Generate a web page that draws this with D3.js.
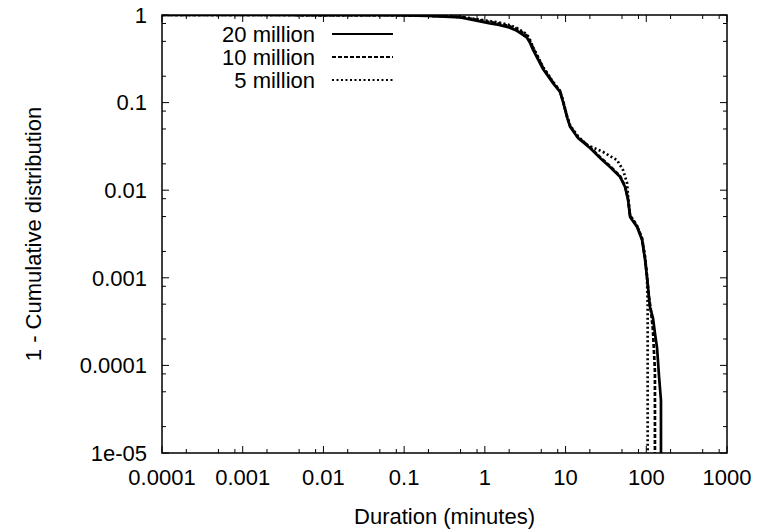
<!DOCTYPE html>
<html>
<head>
<meta charset="utf-8">
<script src="https://cdn.jsdelivr.net/npm/d3@7"></script>
<style>
  body { margin: 0; background: #fff; }
  svg { display: block; font-family: "Liberation Sans", Arial, sans-serif; }
</style>
</head>
<body>
<svg width="759" height="531"></svg>
<script>
// названия серий (легенда)
const seriesNames = ["20 million", "10 million", "5 million"];

// 20 million: длительность (минуты) и 1 - F(x)
const dur20 = [0.0001, 0.001, 0.01, 0.05, 0.1, 0.2, 0.5, 1.16, 1.5, 2.0, 2.5, 3.0, 3.33, 3.63, 3.96, 5.26, 7.0, 8.55, 9.31, 10.4, 11.4, 14.3, 20.1, 26.8, 35.6, 47.3, 54.6, 59.5, 63.0, 76.9, 88.7, 96.6, 102, 108, 111, 121, 128, 136, 144, 152, 152];
const surv20 = [1, 1, 0.999, 0.995, 0.99, 0.975, 0.94, 0.80, 0.77, 0.72, 0.66, 0.59, 0.55, 0.48, 0.40, 0.242, 0.167, 0.132, 0.1016, 0.0685, 0.0527, 0.0394, 0.0303, 0.0233, 0.0184, 0.0142, 0.0109, 0.00773, 0.00494, 0.0038, 0.0027, 0.0016, 0.00102, 0.0006, 0.000464, 0.000348, 0.000234, 0.000158, 7.4e-5, 4.0e-5, 1e-5];

// 10 million
const dur10 = [0.0001, 0.001, 0.01, 0.05, 0.1, 0.2, 0.5, 1.16, 1.5, 2.0, 2.5, 3.0, 3.33, 3.63, 3.96, 5.26, 7.0, 8.55, 9.31, 10.4, 11.4, 14.3, 20.1, 26.8, 35.6, 47.3, 54.6, 59.5, 63.0, 76.9, 88.7, 96.6, 102, 108, 114, 121, 128, 128];
const surv10 = [1, 1, 0.999, 0.996, 0.992, 0.98, 0.95, 0.83, 0.80, 0.75, 0.69, 0.62, 0.58, 0.50, 0.42, 0.25, 0.17, 0.135, 0.104, 0.07, 0.054, 0.040, 0.031, 0.0238, 0.0188, 0.0145, 0.0111, 0.0079, 0.0051, 0.0039, 0.0028, 0.0017, 0.00105, 0.0006, 0.00043, 0.00025, 8.5e-5, 1e-5];

// 5 million
const dur5 = [0.0001, 0.001, 0.01, 0.05, 0.1, 0.2, 0.5, 1.16, 1.5, 2.0, 2.5, 3.0, 3.33, 3.63, 3.96, 5.26, 7.0, 8.55, 9.31, 10.4, 11.4, 14.3, 18.5, 29.2, 43.4, 51.5, 57.8, 59.5, 63.0, 76.9, 88.7, 96.6, 102, 104, 104];
const surv5 = [1, 1, 0.999, 0.997, 0.993, 0.982, 0.955, 0.85, 0.82, 0.77, 0.71, 0.64, 0.60, 0.52, 0.43, 0.255, 0.172, 0.136, 0.105, 0.071, 0.055, 0.041, 0.0328, 0.0273, 0.0221, 0.017, 0.0121, 0.0084, 0.0052, 0.0039, 0.0028, 0.0017, 0.00105, 0.0005, 1e-5];

// подписи делений
const xTicks = [0.0001, 0.001, 0.01, 0.1, 1, 10, 100, 1000];
const xTickLabels = ["0.0001", "0.001", "0.01", "0.1", "1", "10", "100", "1000"];
const yTicks = [1e-5, 1e-4, 1e-3, 1e-2, 0.1, 1];
const yTickLabels = ["1e-05", "0.0001", "0.001", "0.01", "0.1", "1"];
const minorMult = [2, 5, 8];

function drawGraph() {
    let svg = d3.select("svg");
    svg.selectAll('*').remove();

    // область построения
    const area = { left: 162, right: 727, top: 15, bottom: 453 };

    let scaleX = d3.scaleLog().domain([1e-4, 1e3]).range([area.left, area.right]);
    let scaleY = d3.scaleLog().domain([1e-5, 1]).range([area.bottom, area.top]);

    drawAxis(svg, scaleX, scaleY, area);

    // обрезка линий по рамке
    svg.append("clipPath").attr("id", "plotClip")
        .append("rect")
        .attr("x", area.left).attr("y", area.top)
        .attr("width", area.right - area.left)
        .attr("height", area.bottom - area.top);

    const series = [
        { x: dur20, y: surv20, dash: null },
        { x: dur10, y: surv10, dash: "4,2" },
        { x: dur5, y: surv5, dash: "2,2.5" }
    ];

    const line = d3.line()
        .x(d => scaleX(d[0]))
        .y(d => scaleY(d[1]));

    series.forEach(s => {
        const pts = s.x.map((v, i) => [v, s.y[i]]);
        svg.append("path")
            .attr("clip-path", "url(#plotClip)")
            .attr("d", line(pts))
            .attr("fill", "none")
            .attr("stroke", "#000")
            .attr("stroke-width", 2.7)
            .attr("stroke-dasharray", s.dash);
    });

    // легенда
    series.forEach((s, i) => {
        const yy = 34 + i * 23;
        svg.append("text")
            .attr("x", 315).attr("y", yy)
            .attr("dy", "0.35em")
            .attr("text-anchor", "end")
            .style("font-size", "22px")
            .text(seriesNames[i]);
        svg.append("line")
            .attr("x1", 332).attr("x2", 393)
            .attr("y1", yy).attr("y2", yy)
            .attr("stroke", "#000")
            .attr("stroke-width", 2)
            .attr("stroke-dasharray", s.dash);
    });
}

function drawAxis(svg, scaleX, scaleY, area) {
    const g = svg.append("g").attr("stroke", "#000").attr("stroke-width", 1);
    const major = 7, minor = 4;

    // деления по оси X (снизу и сверху, внутрь)
    const xMinor = [];
    xTicks.slice(0, -1).forEach(t => minorMult.forEach(m => xMinor.push(t * m)));
    xTicks.forEach(t => {
        g.append("line").attr("x1", scaleX(t)).attr("x2", scaleX(t))
            .attr("y1", area.bottom).attr("y2", area.bottom - major);
        g.append("line").attr("x1", scaleX(t)).attr("x2", scaleX(t))
            .attr("y1", area.top).attr("y2", area.top + major);
    });
    xMinor.forEach(t => {
        g.append("line").attr("x1", scaleX(t)).attr("x2", scaleX(t))
            .attr("y1", area.bottom).attr("y2", area.bottom - minor);
        g.append("line").attr("x1", scaleX(t)).attr("x2", scaleX(t))
            .attr("y1", area.top).attr("y2", area.top + minor);
    });

    // деления по оси Y (слева и справа)
    const yMinor = [];
    yTicks.slice(0, -1).forEach(t => minorMult.forEach(m => yMinor.push(t * m)));
    yTicks.forEach(t => {
        g.append("line").attr("y1", scaleY(t)).attr("y2", scaleY(t))
            .attr("x1", area.left).attr("x2", area.left + major);
        g.append("line").attr("y1", scaleY(t)).attr("y2", scaleY(t))
            .attr("x1", area.right).attr("x2", area.right - major);
    });
    yMinor.forEach(t => {
        g.append("line").attr("y1", scaleY(t)).attr("y2", scaleY(t))
            .attr("x1", area.left).attr("x2", area.left + minor);
        g.append("line").attr("y1", scaleY(t)).attr("y2", scaleY(t))
            .attr("x1", area.right).attr("x2", area.right - minor);
    });

    // рамка
    svg.append("rect")
        .attr("x", area.left).attr("y", area.top)
        .attr("width", area.right - area.left)
        .attr("height", area.bottom - area.top)
        .attr("fill", "none")
        .attr("stroke", "#000")
        .attr("stroke-width", 1.5);

    // подписи делений
    xTicks.forEach((t, i) => {
        svg.append("text")
            .attr("x", scaleX(t)).attr("y", area.bottom + 24)
            .attr("dy", "0.35em")
            .attr("text-anchor", "middle")
            .style("font-size", "22px")
            .text(xTickLabels[i]);
    });
    yTicks.forEach((t, i) => {
        svg.append("text")
            .attr("x", area.left - 15).attr("y", scaleY(t))
            .attr("dy", "0.35em")
            .attr("text-anchor", "end")
            .style("font-size", "22px")
            .text(yTickLabels[i]);
    });

    // названия осей
    svg.append("text")
        .attr("x", (area.left + area.right) / 2).attr("y", 516)
        .attr("dy", "0.35em")
        .attr("text-anchor", "middle")
        .style("font-size", "22px")
        .text("Duration (minutes)");

    svg.append("text")
        .attr("transform", `translate(33, ${(area.top + area.bottom) / 2}) rotate(-90)`)
        .attr("dy", "0.35em")
        .attr("text-anchor", "middle")
        .style("font-size", "22px")
        .text("1 - Cumulative distribution");
}

drawGraph();
</script>
</body>
</html>
